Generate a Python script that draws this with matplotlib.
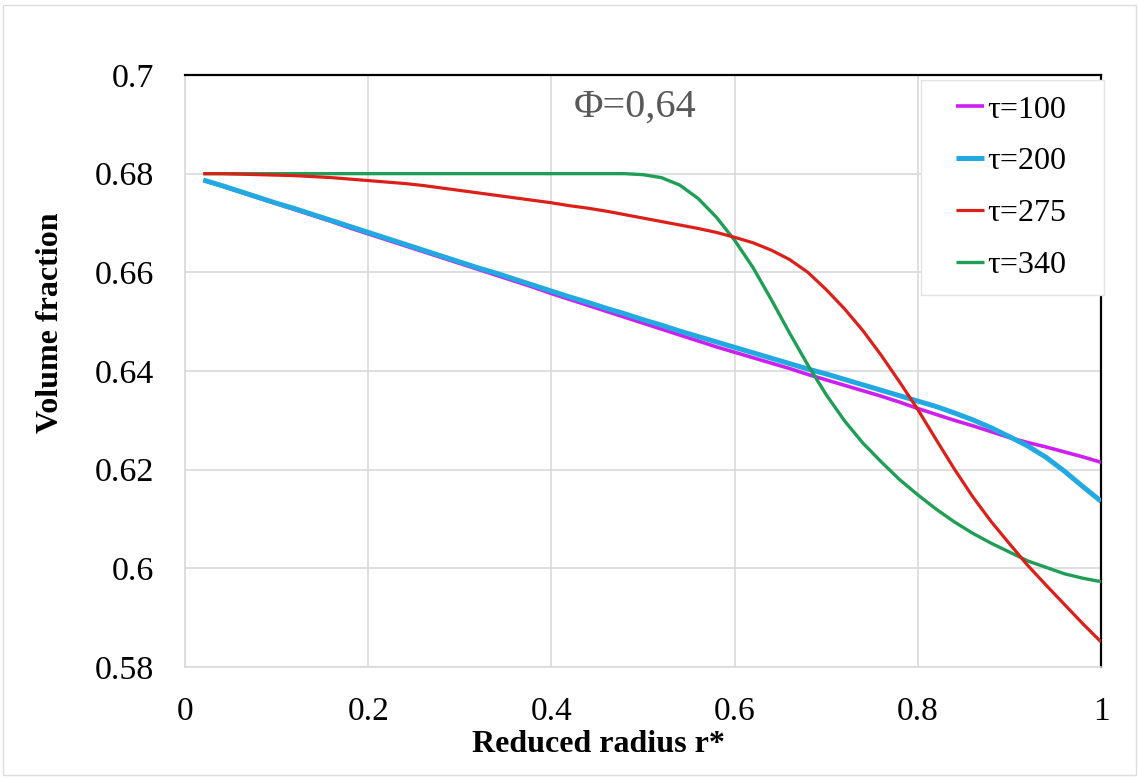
import matplotlib
matplotlib.use("Agg")
import matplotlib.pyplot as plt
from matplotlib.patches import Rectangle

# ---------------- data ----------------
r_star = [0.02, 0.04, 0.06, 0.08, 0.10, 0.12, 0.14, 0.16, 0.18, 0.20,
          0.22, 0.24, 0.26, 0.28, 0.30, 0.32, 0.34, 0.36, 0.38, 0.40,
          0.42, 0.44, 0.46, 0.48, 0.50, 0.52, 0.54, 0.56, 0.58, 0.60,
          0.62, 0.64, 0.66, 0.68, 0.70, 0.72, 0.74, 0.76, 0.78, 0.80,
          0.82, 0.84, 0.86, 0.88, 0.90, 0.92, 0.94, 0.96, 0.98, 1.00]

tau100 = [0.6787, 0.6775, 0.6763, 0.6751, 0.6739, 0.6727, 0.6715, 0.6703, 0.6690, 0.6678,
          0.6666, 0.6654, 0.6642, 0.6630, 0.6618, 0.6606, 0.6594, 0.6582, 0.6570, 0.6557,
          0.6545, 0.6533, 0.6521, 0.6509, 0.6497, 0.6485, 0.6473, 0.6461, 0.6449, 0.6438,
          0.6427, 0.6416, 0.6405, 0.6393, 0.6382, 0.6371, 0.6360, 0.6349, 0.6337, 0.6324,
          0.6312, 0.6300, 0.6289, 0.6277, 0.6265, 0.6255, 0.6246, 0.6236, 0.6226, 0.6215]

tau200 = [0.6787, 0.6776, 0.6764, 0.6752, 0.6740, 0.6729, 0.6717, 0.6705, 0.6693, 0.6681,
          0.6669, 0.6657, 0.6645, 0.6633, 0.6621, 0.6609, 0.6598, 0.6586, 0.6574, 0.6562,
          0.6550, 0.6539, 0.6527, 0.6516, 0.6504, 0.6493, 0.6481, 0.6470, 0.6459, 0.6448,
          0.6437, 0.6426, 0.6415, 0.6404, 0.6394, 0.6383, 0.6372, 0.6361, 0.6350, 0.6339,
          0.6328, 0.6315, 0.6301, 0.6285, 0.6267, 0.6248, 0.6225, 0.6197, 0.6166, 0.6136]

tau275 = [0.6800, 0.6800, 0.6799, 0.6798, 0.6797, 0.6796, 0.6794, 0.6792, 0.6789, 0.6786,
          0.6783, 0.6780, 0.6776, 0.6771, 0.6766, 0.6761, 0.6756, 0.6751, 0.6746, 0.6741,
          0.6735, 0.6730, 0.6724, 0.6717, 0.6710, 0.6703, 0.6696, 0.6689, 0.6681, 0.6671,
          0.6660, 0.6645, 0.6626, 0.6600, 0.6565, 0.6526, 0.6482, 0.6432, 0.6378, 0.6322,
          0.6261, 0.6201, 0.6145, 0.6095, 0.6050, 0.6006, 0.5966, 0.5927, 0.5888, 0.5851]

tau340 = [0.6800, 0.6800, 0.6800, 0.6800, 0.6800, 0.6800, 0.6800, 0.6800, 0.6800, 0.6800,
          0.6800, 0.6800, 0.6800, 0.6800, 0.6800, 0.6800, 0.6800, 0.6800, 0.6800, 0.6800,
          0.6800, 0.6800, 0.6800, 0.6800, 0.6798, 0.6792, 0.6777, 0.6750, 0.6712, 0.6665,
          0.6610, 0.6545, 0.6477, 0.6412, 0.6352, 0.6299, 0.6254, 0.6216, 0.6180, 0.6149,
          0.6120, 0.6094, 0.6071, 0.6051, 0.6033, 0.6015, 0.6002, 0.5989, 0.5980, 0.5973]

series_labels = ["τ=100", "τ=200", "τ=275", "τ=340"]
x_ticks = [0, 0.2, 0.4, 0.6, 0.8, 1.0]
x_tick_labels = ["0", "0.2", "0.4", "0.6", "0.8", "1"]
y_ticks = [0.58, 0.60, 0.62, 0.64, 0.66, 0.68, 0.70]
y_tick_labels = ["0.58", "0.6", "0.62", "0.64", "0.66", "0.68", "0.7"]
annotation = "Φ=0,64"

# ---------------- figure ----------------
W, H = 1139, 778
fig = plt.figure(figsize=(W / 100, H / 100), dpi=100)
fig.patch.set_facecolor("white")
fig.patches.append(Rectangle((3 / W, 3 / H), 1 - 6 / W, 1 - 8 / H, transform=fig.transFigure,
                             fill=False, edgecolor="#DDDDDD", lw=1.0))

ax = fig.add_axes([185 / W, 1 - 667 / H, 916 / W, 592 / H])
serif = "Liberation Serif"

ax.plot(r_star, tau100, color="#CC1FF0", lw=2.6, label=series_labels[0], zorder=3, solid_capstyle="butt")
ax.plot(r_star, tau200, color="#22A9E1", lw=3.6, label=series_labels[1], zorder=3, solid_capstyle="butt")
ax.plot(r_star, tau340, color="#1F9E55", lw=2.4, label=series_labels[3], zorder=3, solid_capstyle="butt")
ax.plot(r_star, tau275, color="#DD1F1A", lw=2.3, label=series_labels[2], zorder=3, solid_capstyle="butt")

ax.set_xlim(0, 1)
ax.set_ylim(0.58, 0.70)
ax.set_xticks(x_ticks)
ax.set_xticklabels(x_tick_labels, fontfamily=serif, fontsize=24)
ax.set_yticks(y_ticks)
ax.set_yticklabels(y_tick_labels, fontfamily=serif, fontsize=24.5)
ax.tick_params(axis="both", length=0)
ax.tick_params(axis="x", pad=21)
ax.tick_params(axis="y", pad=22.5)

ax.grid(True, color="#D9D9D9", lw=1.2)
ax.set_axisbelow(True)
for s in ("left", "bottom"):
    ax.spines[s].set_color("#D9D9D9")
    ax.spines[s].set_linewidth(1.2)
for s in ("top", "right"):
    ax.spines[s].set_color("black")
    ax.spines[s].set_linewidth(1.6)

ax.set_xlabel("Reduced radius r*", fontfamily=serif, fontweight="bold", fontsize=23)
ax.set_ylabel("Volume fraction", fontfamily=serif, fontweight="bold", fontsize=23)
ax.xaxis.set_label_coords(0.451, -0.106)
ax.yaxis.set_label_coords(-0.131, 0.581)

ax.text(0.491, 0.6935, annotation, fontfamily=serif, fontsize=29, color="#595959",
        ha="center", va="center", zorder=4)

# legend box
bx0 = (921 - 185) / 916
by0 = (667 - 295) / 592
by1 = (667 - 80) / 592
ax.add_patch(Rectangle((bx0, by0), 1.003 - bx0, by1 - by0, transform=ax.transAxes,
                       facecolor="white", edgecolor="#E3E3E3", lw=1.0, zorder=4.5, clip_on=False))
handles, labels = ax.get_legend_handles_labels()
order = [labels.index(l) for l in series_labels]
leg = ax.legend([handles[i] for i in order], [labels[i] for i in order],
                loc="center", bbox_to_anchor=((bx0 + 1) / 2, (by0 + by1) / 2),
                frameon=False, prop={"family": serif, "size": 23},
                handlelength=0.9, handletextpad=0.1, labelspacing=0.7, borderpad=0.2)
leg.set_zorder(5)

fig.savefig("out.png", dpi=100)
